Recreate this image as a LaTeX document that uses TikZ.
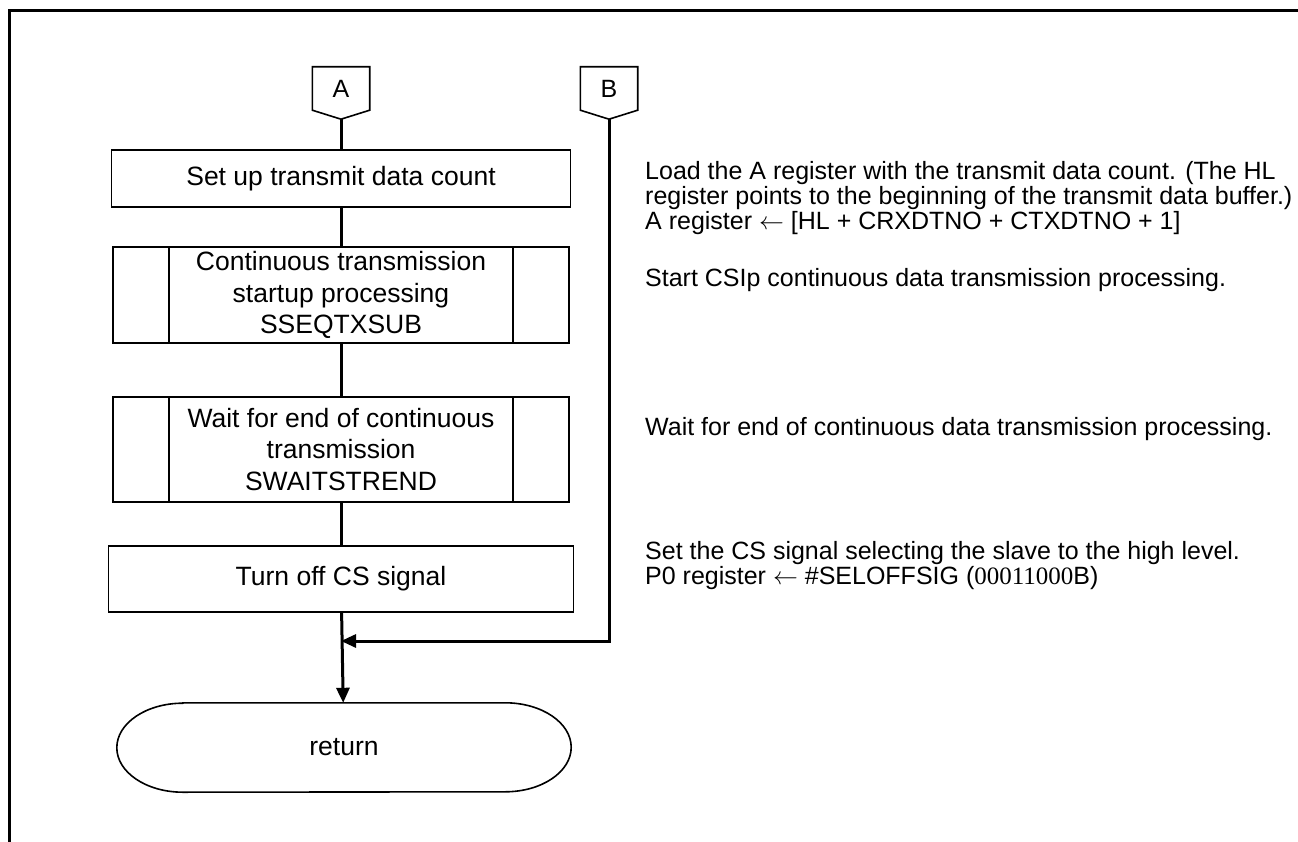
\documentclass[tikz,border=0pt]{standalone}
\usepackage{fontspec}
\setmainfont{Liberation Sans}
\newfontfamily\digitfont{Liberation Serif}
\usetikzlibrary{arrows.meta,calc}

\tikzset{
  proc/.style={draw,line width=1.6pt,inner sep=0pt,align=center,font=\fontsize{26.5}{31.5}\selectfont},
  conn/.style={minimum width=57pt,minimum height=43pt,inner sep=0pt,font=\fontsize{25}{29}\selectfont},
  flow/.style={line width=3pt},
  tip/.style={-{Triangle[length=15pt,width=13pt]}},
  note/.style={anchor=north west,inner sep=0pt,align=left,font=\fontsize{25}{25}\selectfont}
}

\begin{document}
\begin{tikzpicture}[x=1pt,y=-1pt]

      \useasboundingbox (0,0) rectangle (1298,842);
      \draw[line width=3pt] (9,842) -- (9,11) -- (1298,11);

      % off-page connectors
      \node[conn] (A) at (341,88.5) {A};
      \node[conn] (B) at (609,88.5) {B};
      \foreach \c in {A,B} {
        \coordinate (\c tip) at ($(\c.south)+(0,9)$);
        \draw[line width=1.6pt] (\c.north west) -- (\c.north east) -- (\c.south east)
          -- (\c tip) -- (\c.south west) -- cycle;
      }

      % process boxes
      \node[proc,minimum width=459pt,minimum height=57pt] (setcnt) at (341,178.5) {Set up transmit data count};
      \node[proc,minimum width=456pt,minimum height=96pt] (seqtx) at (341,295) {Continuous transmission\\startup processing\\SSEQTXSUB};
      \node[proc,minimum width=456pt,minimum height=105pt] (waitend) at (341,449.5) {Wait for end of continuous\\transmission\\SWAITSTREND};
      \node[proc,minimum width=465pt,minimum height=66pt] (csoff) at (341,579) {Turn off CS signal};
      \foreach \n in {seqtx,waitend} {
        \draw[line width=1.6pt] ([xshift=57pt]\n.north west) -- ([xshift=57pt]\n.south west);
        \draw[line width=1.6pt] ([xshift=-57pt]\n.north east) -- ([xshift=-57pt]\n.south east);
      }

      % terminal
      \node[minimum width=454pt,minimum height=89pt,inner sep=0pt,font=\fontsize{26.5}{31}\selectfont] (ret) at (344,747.5) {return};
      \draw[line width=1.6pt] ([xshift=66pt]ret.north west) -- ([xshift=-66pt]ret.north east)
        arc[start angle=90,end angle=-90,x radius=66pt,y radius=44.5pt]
        -- ([xshift=66pt]ret.south west)
        arc[start angle=270,end angle=90,x radius=66pt,y radius=44.5pt] -- cycle;

      % flow lines
      \coordinate (join) at (csoff.south |- 0,641);
      \draw[flow] (Atip) -- (setcnt);
      \draw[flow] (setcnt) -- (seqtx);
      \draw[flow] (seqtx) -- (waitend);
      \draw[flow] (waitend) -- (csoff);
      \draw[flow,tip] (csoff) -- (ret);
      \draw[flow,tip] (Btip) |- (join);

      % comments
      \node[note] (n1) at (645,161) {Load the A register with the transmit data count. (The HL\\register points to the beginning of the transmit data buffer.)\\A register $\leftarrow$ [HL + CRXDTNO + CTXDTNO + 1]};
      \node[note] (n2) at (645,268) {Start CSIp continuous data transmission processing.};
      \node[note] (n3) at (645,417) {Wait for end of continuous data transmission processing.};
      \node[note] (n4) at (645,541) {Set the CS signal selecting the slave to the high level.\\P0 register $\leftarrow$ \#SELOFFSIG ({\digitfont 00011000}B)};

    \end{tikzpicture}
\end{document}
